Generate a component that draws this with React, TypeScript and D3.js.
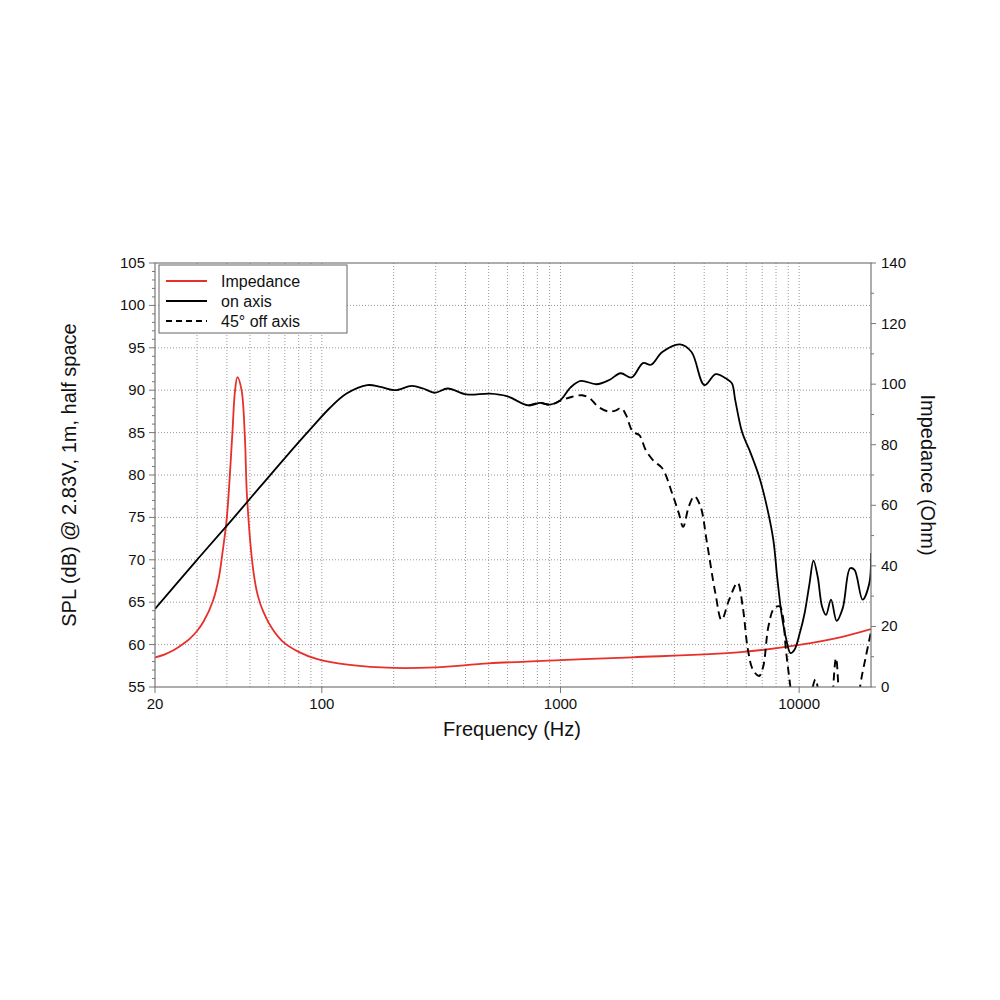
import React from 'react';
import * as d3 from 'd3';

// ---------- data ----------
const impFreq = [20, 22, 24, 26.2, 28, 30, 32, 35, 37, 38.3, 40, 42.1, 43.3, 44.3, 46.1, 47.6, 48.6, 51.6, 54, 56.9, 62, 68.6, 80, 95, 131, 200, 300, 500, 1000, 2000, 5690, 10000, 15000, 20000];
const impOhm = [9.8, 10.8, 12.2, 14.2, 16.0, 18.5, 21.7, 28.5, 36, 44, 56, 82.5, 98, 102.3, 98, 82.5, 62.8, 38.6, 30, 24.8, 19.2, 15.0, 11.6, 9.3, 7.3, 6.3, 6.5, 7.8, 8.9, 9.8, 11.5, 13.9, 16.5, 19.1];

const onFreq = [20, 30, 41.4, 50, 70, 91.5, 108, 127, 155, 176, 202, 238, 266, 297, 337, 404, 506, 596, 734, 822, 904, 997, 1100, 1216, 1416, 1600, 1786, 1987, 2216, 2395, 2670, 3170, 3540, 4010, 4470, 4990, 5230, 5400, 5773, 6200, 6800, 7320, 7800, 8100, 8450, 8800, 9200, 9560, 10050, 10540, 11050, 11480, 11960, 12470, 12960, 13600, 14360, 15230, 16350, 17060, 18440, 19670, 20000];
const onDb = [64.2, 70.0, 74.5, 77.2, 82.0, 85.7, 87.9, 89.6, 90.6, 90.4, 90.0, 90.5, 90.2, 89.7, 90.2, 89.5, 89.6, 89.3, 88.2, 88.5, 88.3, 88.8, 90.3, 91.1, 90.7, 91.2, 92.0, 91.5, 93.2, 93.0, 94.5, 95.4, 94.5, 90.6, 91.9, 91.3, 90.8, 88.8, 85.0, 82.9, 79.8, 76.3, 72.3, 67.8, 63.5, 60.8, 59.0, 59.4, 61.3, 63.7, 67.2, 69.9, 68.0, 64.5, 63.5, 65.3, 62.8, 64.3, 69.0, 68.8, 65.3, 67.2, 70.8];

const offFreq = [734, 822, 904, 1010, 1110, 1232, 1333, 1430, 1580, 1700, 1795, 1880, 2010, 2140, 2280, 2470, 2670, 2940, 3130, 3265, 3450, 3640, 3860, 4115, 4460, 4730, 5090, 5520, 5800, 6100, 6410, 6800, 7070, 7430, 7860, 8300, 8550, 8800, 9280, 9600, 10500, 11200, 11700, 12100, 12800, 13600, 14270, 14900, 16000, 17500, 18000, 19000, 20000];
const offDb = [88.2, 88.5, 88.3, 88.8, 89.2, 89.4, 89.0, 88.1, 87.5, 87.6, 87.9, 87.1, 85.1, 84.7, 82.9, 81.6, 80.8, 77.8, 75.5, 73.9, 76.3, 77.5, 76.3, 71.9, 66.0, 62.9, 65.3, 67.3, 64.5, 59.4, 57.0, 56.3, 57.4, 62.1, 64.3, 64.5, 63.3, 59.4, 54.0, 50, 50, 54, 55.9, 54, 48, 52, 58.4, 52, 48, 50, 55, 58.5, 61.5];

const dbTicks = [55, 60, 65, 70, 75, 80, 85, 90, 95, 100, 105];
const ohmTicks = [0, 20, 40, 60, 80, 100, 120, 140];
const freqTicks = [20, 100, 1000, 10000];
const legendItems = ['Impedance', 'on axis', '45° off axis'];

// ---------- layout ----------
const W = 1000, H = 1000;
const L = 155, R = 871, T = 263, B = 687;
const FONT = 'Liberation Sans, Arial, Helvetica, sans-serif';
const RED = '#e8302a';

export default function App() {
  const x = d3.scaleLog().domain([20, 20000]).range([L, R]);
  const yDb = d3.scaleLinear().domain([55, 105]).range([B, T]);
  const yOhm = d3.scaleLinear().domain([0, 140]).range([B, T]);

  const gridFreqs: number[] = [];
  [10, 100, 1000, 10000].forEach((d) => {
    for (let k = 1; k <= 9; k++) {
      const f = d * k;
      if (f > 20 && f < 20000) gridFreqs.push(f);
    }
  });
  const dbMinor = d3.range(55, 106, 1);
  const ohmMinor = d3.range(0, 141, 10);

  const curve = d3.curveCatmullRom.alpha(0.5);
  const lineDb = d3.line<[number, number]>().x((d) => x(d[0])).y((d) => yDb(d[1])).curve(curve);
  const lineOhm = d3.line<[number, number]>().x((d) => x(d[0])).y((d) => yOhm(d[1])).curve(curve);

  const impPath = lineOhm(impFreq.map((f, i) => [f, impOhm[i]] as [number, number]));
  const onPath = lineDb(onFreq.map((f, i) => [f, onDb[i]] as [number, number]));
  const offPath = lineDb(offFreq.map((f, i) => [f, offDb[i]] as [number, number]));

  const legendStyles = [
    { stroke: RED, dash: undefined },
    { stroke: '#000', dash: undefined },
    { stroke: '#000', dash: '6,4' },
  ];

  return (
    <svg width={W} height={H} style={{ position: 'absolute', left: 0, top: 0, background: '#fff' }} fontFamily={FONT}>
      <defs>
        <clipPath id="plot">
          <rect x={L} y={T} width={R - L} height={B - T} />
        </clipPath>
      </defs>
      {gridFreqs.map((f) => (
        <line key={'vg' + f} x1={x(f)} x2={x(f)} y1={T} y2={B} stroke="#999" strokeWidth={1} strokeDasharray="1,2" />
      ))}
      {dbTicks.filter((d) => d > 55 && d < 105).map((d) => (
        <line key={'hg' + d} x1={L} x2={R} y1={yDb(d)} y2={yDb(d)} stroke="#999" strokeWidth={1} strokeDasharray="1,2" />
      ))}
      <g clipPath="url(#plot)" fill="none">
        <path d={impPath || ''} stroke={RED} strokeWidth={1.8} />
        <path d={offPath || ''} stroke="#000" strokeWidth={1.9} strokeDasharray="8,5" />
        <path d={onPath || ''} stroke="#000" strokeWidth={1.8} />
      </g>
      <rect x={L} y={T} width={R - L} height={B - T} fill="none" stroke="#777" strokeWidth={1.2} />
      {dbMinor.map((d) => (
        <line key={'lm' + d} x1={L - (d % 5 === 0 ? 6 : 3)} x2={L} y1={yDb(d)} y2={yDb(d)} stroke="#777" strokeWidth={1} />
      ))}
      {dbTicks.map((d) => (
        <text key={'lt' + d} x={L - 10} y={yDb(d) + 5} textAnchor="end" fontSize={15} fill="#111">{d}</text>
      ))}
      {ohmMinor.map((d) => (
        <line key={'rm' + d} x1={R} x2={R + (d % 20 === 0 ? 5 : 3)} y1={yOhm(d)} y2={yOhm(d)} stroke="#777" strokeWidth={1} />
      ))}
      {ohmTicks.map((d) => (
        <text key={'rt' + d} x={R + 10} y={yOhm(d) + 5} textAnchor="start" fontSize={15} fill="#111">{d}</text>
      ))}
      {freqTicks.map((f) => (
        <g key={'bt' + f}>
          <line x1={x(f)} x2={x(f)} y1={B} y2={B + 6} stroke="#777" strokeWidth={1} />
          <text x={x(f)} y={B + 22} textAnchor="middle" fontSize={15} fill="#111">{f}</text>
        </g>
      ))}
      <text x={(L + R) / 2 - 1} y={736} textAnchor="middle" fontSize={20} fill="#111">Frequency (Hz)</text>
      <text transform={`translate(76,475) rotate(-90)`} textAnchor="middle" fontSize={20} fill="#111">SPL (dB) @ 2.83V, 1m, half space</text>
      <text transform={`translate(921,475) rotate(90)`} textAnchor="middle" fontSize={20} fill="#111">Impedance (Ohm)</text>
      <rect x={159} y={265} width={188} height={68} fill="#fff" stroke="#666" strokeWidth={1} />
      {legendItems.map((name, i) => (
        <g key={name}>
          <line x1={166} x2={207} y1={281 + i * 20} y2={281 + i * 20} stroke={legendStyles[i].stroke} strokeWidth={1.8} strokeDasharray={legendStyles[i].dash} />
          <text x={221} y={281 + i * 20 + 5.5} fontSize={16} fill="#111">{name}</text>
        </g>
      ))}
    </svg>
  );
}
